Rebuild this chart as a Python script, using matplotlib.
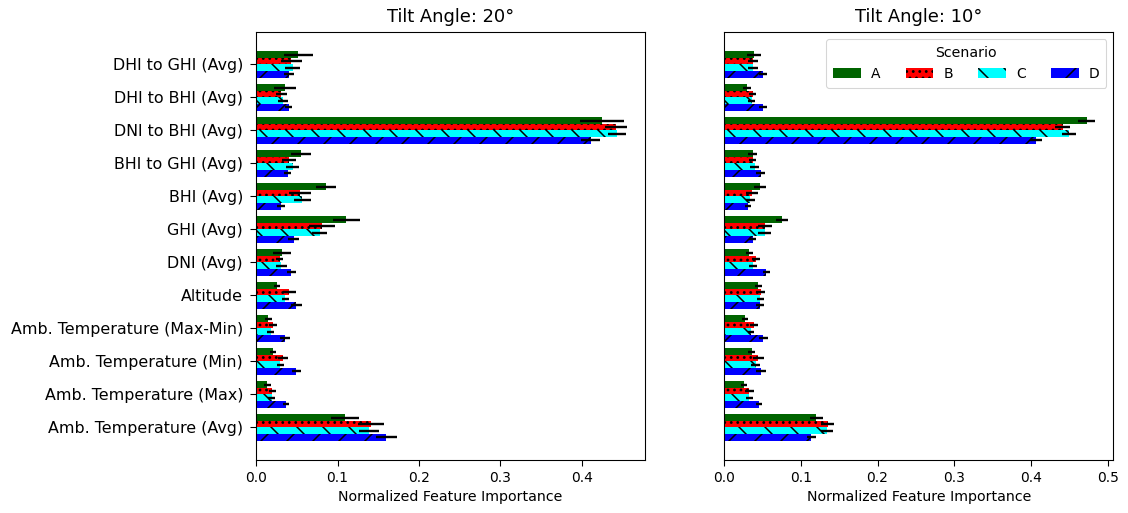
import numpy as np
import matplotlib
matplotlib.use('Agg')
import matplotlib.pyplot as plt

features = ['DHI to GHI (Avg)', 'DHI to BHI (Avg)', 'DNI to BHI (Avg)', 'BHI to GHI (Avg)',
            'BHI (Avg)', 'GHI (Avg)', 'DNI (Avg)', 'Altitude',
            'Amb. Temperature (Max-Min)', 'Amb. Temperature (Min)',
            'Amb. Temperature (Max)', 'Amb. Temperature (Avg)']
scenarios = ['A', 'B', 'C', 'D']

# tilt 20
t20_A = [0.052, 0.0355, 0.425, 0.055, 0.086, 0.111, 0.032, 0.026, 0.015, 0.021, 0.014, 0.109]
t20_A_err = [0.018, 0.013, 0.027, 0.012, 0.012, 0.017, 0.011, 0.0035, 0.004, 0.0037, 0.004, 0.017]
t20_B = [0.0435, 0.031, 0.442, 0.040, 0.054, 0.081, 0.029, 0.041, 0.021, 0.033, 0.020, 0.141]
t20_B_err = [0.0125, 0.0065, 0.013, 0.0085, 0.013, 0.016, 0.0045, 0.0077, 0.0047, 0.006, 0.004, 0.0157]
t20_C = [0.045, 0.033, 0.443, 0.045, 0.057, 0.078, 0.031, 0.036, 0.018, 0.030, 0.019, 0.139]
t20_C_err = [0.009, 0.006, 0.011, 0.008, 0.011, 0.0094, 0.0065, 0.0047, 0.0045, 0.0045, 0.0045, 0.0122]
t20_D = [0.040, 0.040, 0.411, 0.039, 0.031, 0.046, 0.0435, 0.0496, 0.0354, 0.0496, 0.0366, 0.160]
t20_D_err = [0.006, 0.0045, 0.0116, 0.0045, 0.0047, 0.0067, 0.0057, 0.0067, 0.006, 0.006, 0.004, 0.0132]

# tilt 10
t10_A = [0.039, 0.030, 0.4725, 0.037, 0.047, 0.075, 0.033, 0.0445, 0.027, 0.036, 0.026, 0.120]
t10_A_err = [0.0087, 0.005, 0.0108, 0.0058, 0.008, 0.0078, 0.0043, 0.0047, 0.0037, 0.0047, 0.0037, 0.0086]
t10_B = [0.037, 0.037, 0.4417, 0.037, 0.036, 0.053, 0.0415, 0.0475, 0.039, 0.0445, 0.033, 0.135]
t10_B_err = [0.0065, 0.005, 0.0097, 0.0045, 0.008, 0.0093, 0.0054, 0.0056, 0.0056, 0.007, 0.0056, 0.0086]
t10_C = [0.037, 0.036, 0.450, 0.040, 0.034, 0.053, 0.038, 0.047, 0.035, 0.041, 0.033, 0.134]
t10_C_err = [0.0065, 0.0047, 0.0093, 0.0058, 0.006, 0.0086, 0.005, 0.0043, 0.0043, 0.006, 0.0043, 0.0074]
t10_D = [0.050, 0.051, 0.407, 0.0475, 0.0315, 0.037, 0.055, 0.047, 0.051, 0.0475, 0.0457, 0.1136]
t10_D_err = [0.0052, 0.005, 0.0076, 0.0058, 0.004, 0.0043, 0.0047, 0.005, 0.006, 0.0065, 0.004, 0.006]

colors = ['darkgreen', 'red', 'cyan', 'blue']
hatches = ['', '..', '\\', '/']

plt.rcParams['hatch.linewidth'] = 1.4
plt.rcParams['xtick.labelsize'] = 12.8
plt.rcParams['axes.linewidth'] = 1.0
plt.rcParams['xtick.major.size'] = 5.5
plt.rcParams['ytick.major.size'] = 5.5
plt.rcParams['xtick.major.width'] = 1.0
plt.rcParams['ytick.major.width'] = 1.0
plt.rcParams['ytick.major.pad'] = 6.5
plt.rcParams['xtick.major.pad'] = 4.5

dpi = 78
fig, axes = plt.subplots(1, 2, figsize=(1128 / dpi, 513 / dpi), dpi=dpi, sharey=True)
fig.subplots_adjust(left=0.227, right=0.987, bottom=0.103, top=0.938, wspace=0.203)

y = np.arange(len(features))
h = 0.2
panels = [('Tilt Angle: 20°', [t20_A, t20_B, t20_C, t20_D], [t20_A_err, t20_B_err, t20_C_err, t20_D_err]),
          ('Tilt Angle: 10°', [t10_A, t10_B, t10_C, t10_D], [t10_A_err, t10_B_err, t10_C_err, t10_D_err])]

for ax, (title, vals, errs) in zip(axes, panels):
    for i, s in enumerate(scenarios):
        ax.barh(y + (i - 1.5) * h, vals[i], height=h, xerr=errs[i], color=colors[i],
                hatch=hatches[i], label=s, error_kw=dict(ecolor='black', elinewidth=2.2, capsize=0))
    ax.set_title(title, fontsize=16.5, pad=9.5)
    ax.set_xlabel('Normalized Feature Importance', fontsize=13, labelpad=5)

axes[0].set_yticks(y)
axes[0].set_yticklabels(features, fontsize=14.7)
axes[0].invert_yaxis()
axes[1].tick_params(axis='y', left=False, labelleft=False)
axes[1].legend(title='Scenario', ncol=4, loc='upper right', fontsize=12.8, title_fontsize=13,
               columnspacing=1.85, handletextpad=0.7, borderpad=0.5)

fig.savefig('out.png', dpi=dpi)
